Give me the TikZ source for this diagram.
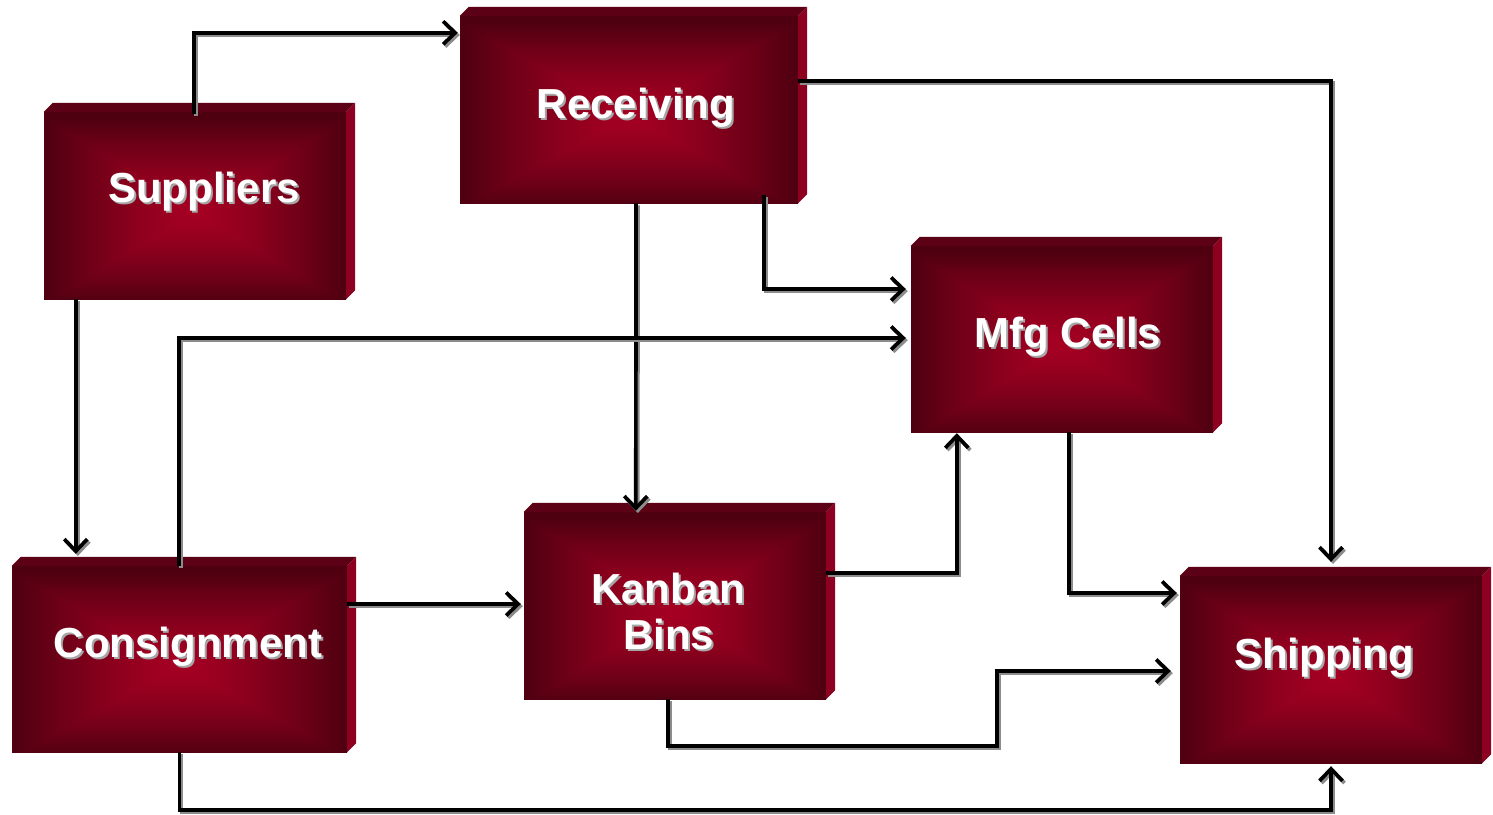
\documentclass[tikz,border=0pt]{standalone}
\usepackage{fontspec}
\setmainfont{Liberation Sans}
\usetikzlibrary{arrows.meta,calc}

\definecolor{topface}{HTML}{5C0015}
\definecolor{sideface}{HTML}{8E001F}
\definecolor{txtshadow}{HTML}{A6A6A6}
\definecolor{lineshadow}{HTML}{8C8C8C}

% rectangular glow: bright crimson in the middle, dark maroon towards every edge
% (the path box covers the middle half of the shading square, i.e. |x|,|y| <= 25)
\pgfdeclarefunctionalshading{facegrad}{\pgfpoint{-50bp}{-50bp}}{\pgfpoint{50bp}{50bp}}{}{
  1.5 add abs exch abs 2 copy lt {exch} if pop 25 div
  dup 1 gt {pop 1} if
  1.35 exp
  dup 0.34 mul 0.645 exch sub
  exch 0.07 mul 0.135 exch sub
  0 exch
}

\tikzset{
  box/.style={rectangle, inner sep=0pt, shade, shading=facegrad},
  lbl/.style={inner sep=0pt, text=white, font=\bfseries\fontsize{42}{46}\selectfont},
  lblshadow/.style={lbl, text=txtshadow},
  conn/.style={line width=3.7pt, black, line join=miter,
    -{Straight Barb[length=12pt,width=23pt]},
    preaction={draw=lineshadow, line width=3.7pt,
      transform canvas={shift={(2pt,-2.2pt)}}}},
}

% label with a soft grey drop shadow
\newcommand\boxtext[4]{%
  \node[lblshadow, anchor=base] (#1-sh) at (#2+2,#3+2.5) {#4};
  \node[lbl, anchor=base] (#1) at (#2,#3) {#4};}

\begin{document}
\begin{tikzpicture}[x=1pt,y=-1pt]
\useasboundingbox (0,0) rectangle (1493,814);

% front faces
\node[box, minimum width=302, minimum height=187] (sup) at (195,205.5) {};
\node[box, minimum width=338, minimum height=187] (rec) at (629,109.5) {};
\node[box, minimum width=302, minimum height=186] (mfg) at (1062,339) {};
\node[box, minimum width=302, minimum height=187] (kan) at (675,605.5) {};
\node[box, minimum width=335, minimum height=186] (con) at (179.5,659) {};
\node[box, minimum width=302, minimum height=187] (shp) at (1331,669.5) {};

% bevelled top and right faces
\foreach \n in {sup,rec,mfg,kan,con,shp}{
  \fill[topface] (\n.north west) -- ++(9,-9) -- ($(\n.north east)+(9,-9)$)
    -- (\n.north east) -- cycle;
  \fill[sideface] (\n.north east) -- ++(9,-9) -- ($(\n.south east)+(9,-9)$)
    -- (\n.south east) -- cycle;
}

% labels
\boxtext{supT}{204}{202}{Suppliers}
\boxtext{recT}{636}{118}{Receiving}
\boxtext{mfgT}{1068}{347}{Mfg Cells}
\boxtext{kanT1}{668}{603}{Kanban}
\boxtext{kanT2}{668.5}{649}{Bins}
\boxtext{conT}{188}{657}{Consignment}
\boxtext{shpT}{1324}{668}{Shipping}

% flows
\draw[conn] ($(sup.north)+(-1,2)$) |- ($(rec.north west)+(-2,17)$);
\draw[conn] ($(sup.south west)+(32,0)$) -- ($(con.north west)+(64,-12)$);
\draw[conn] ($(rec.east)+(0,-28.5)$) -| ($(shp.north)+(0,-14)$);
\draw[conn] ($(rec.south)+(7,0)$) -- ($(kan.north west)+(112,-1)$);
\draw[conn] ($(rec.south east)+(-34,-8)$) |- ($(mfg.west)+(-5,-50)$);
\draw[conn] ($(con.north west)+(167,0)$) |- ($(mfg.west)+(-5,-1)$);
\draw[conn] ($(con.east)+(0,-55)$) -- ($(kan.west)+(-3,-1.5)$);
\draw[conn] ($(kan.east)+(0,-32.5)$) -| ($(mfg.south west)+(46,1)$);
\draw[conn] ($(mfg.south)+(7,0)$) |- ($(shp.west)+(-3,-76.5)$);
\coordinate (kanBend) at ($(kan.south)+(322,47)$);
\draw[conn] ($(kan.south)+(-7,0)$) |- (kanBend) |- ($(shp.west)+(-9,1.5)$);
\draw[conn] (con.south) -- ++(0,58) -| ($(shp.south)+(0,3)$);
\end{tikzpicture}
\end{document}
